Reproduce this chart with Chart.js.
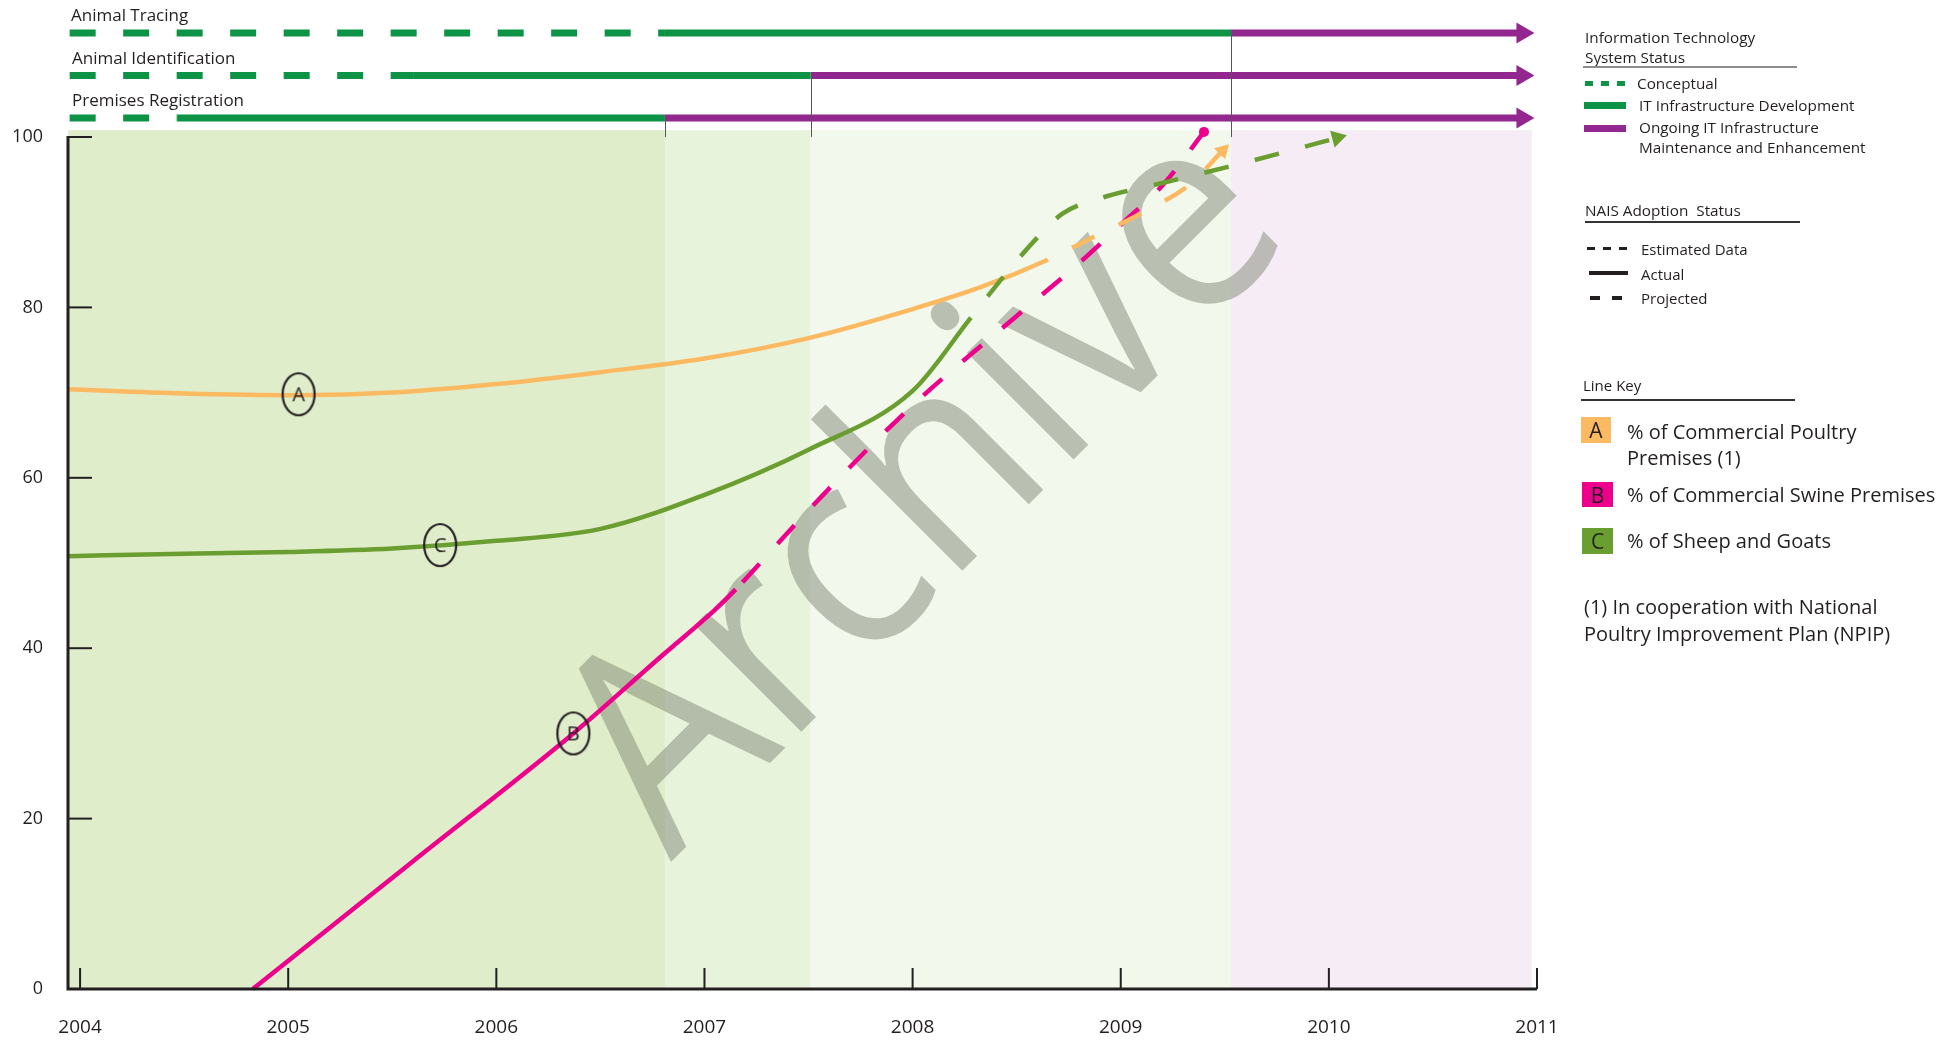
<!DOCTYPE html>
<html>
<head>
<meta charset="utf-8">
<script src="https://cdn.jsdelivr.net/npm/chart.js@4.4.0/dist/chart.umd.min.js"></script>
<style>
  body { margin: 0; background: #fff; font-family: 'Open Sans', sans-serif; color: #231f20; }
  #wrap { position: relative; width: 1956px; height: 1040px; overflow: hidden; }
  #chart { position: absolute; left: 0; top: 0; }
  .t { position: absolute; white-space: nowrap; line-height: 1.2; transform: translateY(-50%); }
  .r { position: absolute; }
  .box { position: absolute; text-align: center; font-size: 21px; line-height: 26px; }
</style>
</head>
<body>
<div id="wrap">
  <canvas id="chart" width="1956" height="1040"></canvas>

  <div class="t" style="left:71px;top:15px;font-size:17px">Animal Tracing</div>
  <div class="t" style="left:72px;top:58px;font-size:17px">Animal Identification</div>
  <div class="t" style="left:72px;top:100px;font-size:17px">Premises Registration</div>

  <div class="t" style="left:1585px;top:37px;font-size:15.3px">Information Technology</div>
  <div class="t" style="left:1585px;top:57px;font-size:15.3px">System Status</div>
  <div class="r" style="left:1583px;top:66px;width:214px;height:2px;background:#8c8c8c"></div>

  <div class="r" style="left:1585px;top:81px;width:8px;height:5px;background:#0c9346"></div>
  <div class="r" style="left:1601px;top:81px;width:8px;height:5px;background:#0c9346"></div>
  <div class="r" style="left:1617px;top:81px;width:8px;height:5px;background:#0c9346"></div>
  <div class="t" style="left:1637px;top:83px;font-size:15.3px">Conceptual</div>

  <div class="r" style="left:1584px;top:102px;width:42px;height:7px;background:#0c9346"></div>
  <div class="t" style="left:1639px;top:105px;font-size:15.3px">IT Infrastructure Development</div>

  <div class="r" style="left:1584px;top:125px;width:42px;height:7px;background:#92278f"></div>
  <div class="t" style="left:1639px;top:127px;font-size:15.3px">Ongoing IT Infrastructure</div>
  <div class="t" style="left:1639px;top:147px;font-size:15.3px">Maintenance and Enhancement</div>

  <div class="t" style="left:1585px;top:210px;font-size:15.3px">NAIS Adoption&nbsp; Status</div>
  <div class="r" style="left:1585px;top:221px;width:215px;height:1.5px;background:#333"></div>

  <div class="r" style="left:1587px;top:247px;width:8px;height:3px;background:#231f20"></div>
  <div class="r" style="left:1603px;top:247px;width:8px;height:3px;background:#231f20"></div>
  <div class="r" style="left:1619px;top:247px;width:8px;height:3px;background:#231f20"></div>
  <div class="t" style="left:1641px;top:249px;font-size:15px">Estimated Data</div>

  <div class="r" style="left:1589px;top:271px;width:39px;height:4px;background:#231f20"></div>
  <div class="t" style="left:1641px;top:274px;font-size:15px">Actual</div>

  <div class="r" style="left:1590px;top:296px;width:10px;height:4px;background:#231f20"></div>
  <div class="r" style="left:1612px;top:296px;width:10px;height:4px;background:#231f20"></div>
  <div class="t" style="left:1641px;top:298px;font-size:15px">Projected</div>

  <div class="t" style="left:1583px;top:385px;font-size:15px">Line Key</div>
  <div class="r" style="left:1581px;top:399px;width:214px;height:1.5px;background:#333"></div>

  <div class="box" style="left:1581px;top:417px;width:30px;height:26px;background:#fbb962">A</div>
  <div class="t" style="left:1627px;top:432px;font-size:20px">% of Commercial Poultry</div>
  <div class="t" style="left:1627px;top:458px;font-size:20px">Premises (1)</div>

  <div class="box" style="left:1582px;top:482px;width:31px;height:25px;background:#ec008c">B</div>
  <div class="t" style="left:1627px;top:495px;font-size:20px">% of Commercial Swine Premises</div>

  <div class="box" style="left:1582px;top:528px;width:31px;height:26px;background:#6b9e30">C</div>
  <div class="t" style="left:1627px;top:541px;font-size:20px">% of Sheep and Goats</div>

  <div class="t" style="left:1584px;top:607px;font-size:20px">(1) In cooperation with National</div>
  <div class="t" style="left:1584px;top:634px;font-size:20px">Poultry Improvement Plan (NPIP)</div>
</div>

<script>
const years = [2004, 2005, 2006, 2007, 2008, 2009, 2010, 2011]
const valueTicks = [0, 20, 40, 60, 80, 100]

// IT system status timeline, one entry per row (top to bottom)
const statusRows = ['Animal Tracing', 'Animal Identification', 'Premises Registration']
const conceptualFrom = [2003.95, 2003.95, 2003.95]
const developmentFrom = [2006.81, 2005.6, 2004.47]
const maintenanceFrom = [2009.53, 2007.51, 2006.81]
const maintenanceTo = [2010.93, 2010.93, 2010.93]

// shaded phases behind the plot
const phaseEdges = [2003.942, 2006.81, 2007.51, 2009.53, 2010.975]
const phaseTop = 100.8

// A - commercial poultry premises
const poultryYears = [2003.94, 2004.5, 2005.05, 2005.5, 2006.0, 2006.5, 2007.0, 2007.5, 2008.0, 2008.33, 2008.65, 2008.88, 2009.11, 2009.33, 2009.49]
const poultryPct = [70.4, 69.9, 69.7, 70.0, 71.0, 72.4, 74.0, 76.4, 79.8, 82.4, 85.6, 88.4, 91.2, 94.4, 98.4]
const poultryActualTo = 2008.65

// B - commercial swine premises
const swineYears = [2004.83, 2005.6, 2006.37, 2006.79, 2007.05, 2007.15, 2007.5, 2008.0, 2008.5, 2008.8, 2009.0, 2009.2, 2009.4]
const swinePct = [0, 15.0, 30.0, 39.0, 44.5, 46.9, 56.2, 68.5, 79.0, 85.2, 89.7, 94.3, 100.6]
const swineActualTo = 2007.15

// C - sheep and goats
const sheepYears = [2003.94, 2004.5, 2005.0, 2005.5, 2006.0, 2006.5, 2007.0, 2007.5, 2008.0, 2008.28, 2008.45, 2008.6, 2008.72, 2008.9, 2009.2, 2009.5, 2009.8, 2010.04]
const sheepPct = [50.8, 51.1, 51.3, 51.7, 52.6, 54.0, 58.0, 63.3, 70.2, 78.8, 84.0, 88.2, 91.0, 92.8, 94.6, 96.4, 98.3, 99.9]
const sheepActualTo = 2008.28

// circled letters on the lines
const keyLetters = ['A', 'B', 'C']
const keyYears = [2005.05, 2006.37, 2005.73]
const keyPct = [69.8, 30.0, 52.1]

const GREEN = '#0c9346'
const PURPLE = '#92278f'
const ORANGE = '#fbb962'
const PINK = '#ec008c'
const OLIVE = '#6b9e30'
const INK = '#231f20'
const phaseColors = ['#dfedca', '#e8f3dc', '#f2f8eb', '#f6ecf5']

const pts = (xs, ys) => xs.map((x, i) => ({ x, y: ys[i] }))

const ellipseMark = letter => {
  const c = document.createElement('canvas')
  c.width = 40
  c.height = 50
  const g = c.getContext('2d')
  g.lineWidth = 2.2
  g.strokeStyle = INK
  g.beginPath()
  g.ellipse(20, 25, 16, 21, 0, 0, Math.PI * 2)
  g.stroke()
  g.fillStyle = INK
  g.font = '20px "Open Sans"'
  g.textAlign = 'center'
  g.textBaseline = 'middle'
  g.fillText(letter, 20, 26)
  return c
}

const lastOnly = (n, v) => Array.from({ length: n }, (_, i) => i === n - 1 ? v : 0)

// solid while actual, dashed once estimated
const seriesLine = (xs, ys, actualTo, color, endStyle, endRot, endRadius, dashOffset) => ({
  data: pts(xs, ys),
  borderColor: color,
  borderWidth: 4.5,
  cubicInterpolationMode: 'monotone',
  borderCapStyle: 'butt',
  pointRadius: lastOnly(xs.length, endRadius),
  pointStyle: endStyle,
  rotation: endRot,
  pointBackgroundColor: color,
  pointBorderWidth: 0,
  clip: false,
  segment: {
    borderDash: c => c.p0.parsed.x >= actualTo - 1e-6 ? [25, 27] : undefined,
    borderDashOffset: c => c.p0.parsed.x >= actualTo - 1e-6 ? dashOffset : undefined
  }
})

const statusSets = []
statusRows.forEach((name, i) => {
  statusSets.push({
    label: name + ' conceptual',
    data: [{ x: conceptualFrom[i], y: i }, { x: developmentFrom[i], y: i }],
    yAxisID: 'yRow', borderColor: GREEN, borderWidth: 7, borderDash: [26, 27.5],
    borderCapStyle: 'butt', pointRadius: 0, clip: false
  })
  statusSets.push({
    label: name + ' development',
    data: [{ x: developmentFrom[i], y: i }, { x: maintenanceFrom[i], y: i }],
    yAxisID: 'yRow', borderColor: GREEN, borderWidth: 7,
    borderCapStyle: 'butt', pointRadius: 0, clip: false
  })
  statusSets.push({
    label: name + ' maintenance',
    data: [{ x: maintenanceFrom[i], y: i }, { x: maintenanceTo[i], y: i }],
    yAxisID: 'yRow', borderColor: PURPLE, borderWidth: 7,
    borderCapStyle: 'butt', pointRadius: [0, 12], pointStyle: 'triangle', rotation: 90,
    pointBackgroundColor: PURPLE, pointBorderWidth: 0, clip: false
  })
})

const backdrop = {
  id: 'backdrop',
  beforeDatasetsDraw(chart) {
    const { ctx, scales: { x, y }, chartArea } = chart
    ctx.save()
    const top = y.getPixelForValue(phaseTop)
    const bottom = y.getPixelForValue(0)
    phaseColors.forEach((c, i) => {
      const l = x.getPixelForValue(phaseEdges[i])
      const r = x.getPixelForValue(phaseEdges[i + 1])
      ctx.fillStyle = c
      ctx.fillRect(l, top, r - l, bottom - top)
    })
    // archive watermark
    ctx.translate(chartArea.left + 603, chartArea.bottom - 127)
    ctx.rotate(-45 * Math.PI / 180)
    ctx.scale(0.91, 1)
    ctx.font = '282px "Open Sans"'
    ctx.textAlign = 'left'
    ctx.textBaseline = 'alphabetic'
    ctx.fillStyle = 'rgba(118,126,110,0.46)'
    ctx.fillText('Archive', 0, 0)
    ctx.restore()
  },
  afterDatasetsDraw(chart) {
    const { ctx, scales: { x, y, yRow }, chartArea } = chart
    ctx.save()
    ctx.strokeStyle = INK
    // tick marks pointing into the plot
    ctx.lineWidth = 2
    valueTicks.forEach(v => {
      const py = y.getPixelForValue(v)
      ctx.beginPath(); ctx.moveTo(chartArea.left, py); ctx.lineTo(chartArea.left + 24, py); ctx.stroke()
    })
    years.forEach(v => {
      const px = x.getPixelForValue(v)
      ctx.beginPath(); ctx.moveTo(px, chartArea.bottom); ctx.lineTo(px, chartArea.bottom - 21); ctx.stroke()
    })
    // axis lines
    ctx.lineWidth = 3
    ctx.beginPath()
    ctx.moveTo(chartArea.left, y.getPixelForValue(100) - 1)
    ctx.lineTo(chartArea.left, chartArea.bottom)
    ctx.lineTo(chartArea.right, chartArea.bottom)
    ctx.stroke()
    // connectors from each status change down to the plot
    ctx.lineWidth = 1
    ctx.strokeStyle = '#555'
    maintenanceFrom.forEach((v, i) => {
      const px = Math.round(x.getPixelForValue(v)) + 0.5
      ctx.beginPath(); ctx.moveTo(px, yRow.getPixelForValue(i)); ctx.lineTo(px, y.getPixelForValue(100)); ctx.stroke()
    })
    ctx.restore()
  }
}

const chart = new Chart(document.getElementById('chart').getContext('2d'), {
  type: 'line',
  data: {
    datasets: [
      {
        label: 'Line key',
        data: pts(keyYears, keyPct),
        showLine: false,
        pointRadius: 10,
        pointStyle: keyLetters.map(ellipseMark),
        clip: false
      },
      seriesLine(sheepYears, sheepPct, sheepActualTo, OLIVE, 'triangle', 75, 10, 25),
      seriesLine(poultryYears, poultryPct, poultryActualTo, ORANGE, 'triangle', 45, 9, 25),
      seriesLine(swineYears, swinePct, swineActualTo, PINK, 'circle', 0, 5, 42),
      ...statusSets
    ]
  },
  options: {
    responsive: false,
    animation: false,
    devicePixelRatio: 1,
    layout: { autoPadding: false, padding: { left: 0, right: 419, top: 0, bottom: 0 } },
    plugins: { legend: { display: false }, tooltip: { enabled: false } },
    scales: {
      x: {
        type: 'linear',
        min: 2003.942,
        max: 2011,
        afterBuildTicks: s => { s.ticks = years.map(v => ({ value: v })) },
        afterFit: s => { s.height = 51 },
        grid: { display: false, drawTicks: false },
        border: { display: false },
        ticks: {
          callback: v => String(v),
          padding: 27,
          color: INK,
          maxRotation: 0,
          autoSkip: false,
          font: { family: 'Open Sans', size: 19 }
        }
      },
      y: {
        min: 0,
        max: 116.08,
        afterBuildTicks: s => { s.ticks = valueTicks.map(v => ({ value: v })) },
        afterFit: s => { s.width = 68; s.paddingTop = 0; s.paddingBottom = 0 },
        grid: { display: false, drawTicks: false },
        border: { display: false },
        ticks: {
          padding: 25,
          color: INK,
          font: { family: 'Open Sans', size: 18 }
        }
      },
      yRow: {
        display: false,
        reverse: true,
        min: -0.776,
        max: 22.49
      }
    }
  },
  plugins: [backdrop]
})
</script>
</body>
</html>
